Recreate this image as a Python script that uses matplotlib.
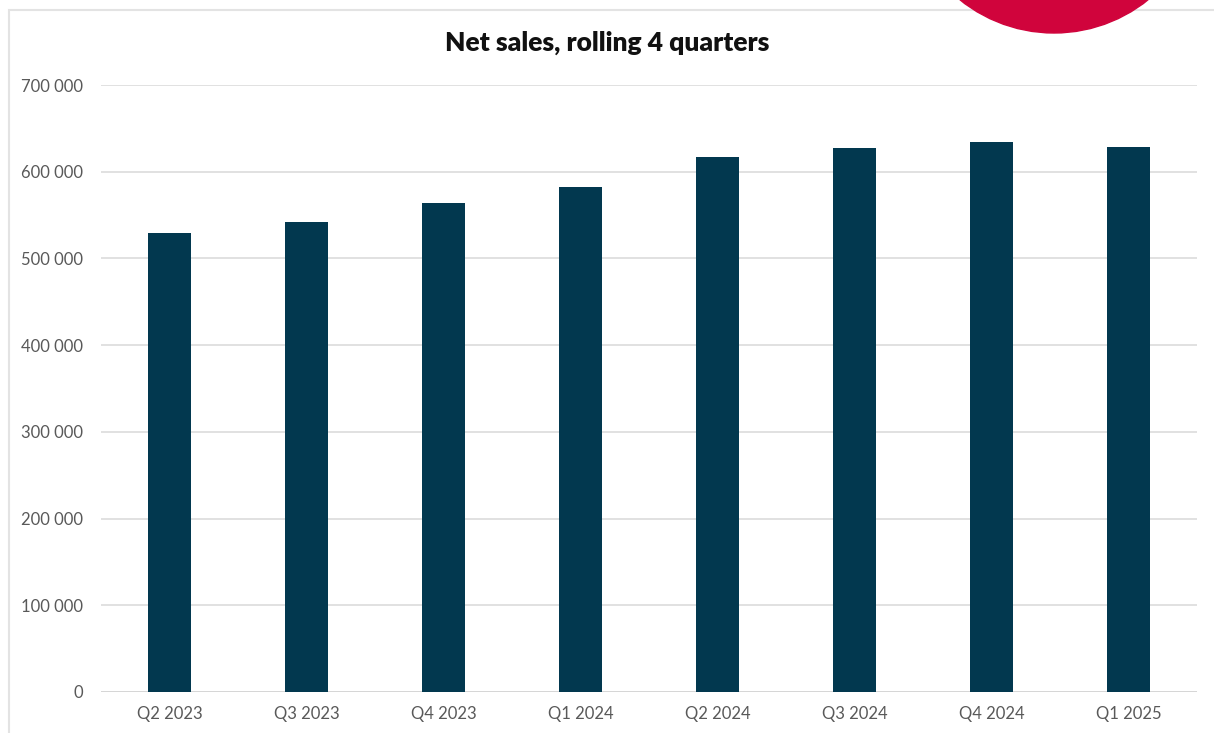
import matplotlib.pyplot as plt
from matplotlib.patches import Rectangle, Ellipse
from matplotlib.ticker import FuncFormatter

quarters = ['Q2 2023', 'Q3 2023', 'Q4 2023', 'Q1 2024',
            'Q2 2024', 'Q3 2024', 'Q4 2024', 'Q1 2025']
net_sales = [529500, 542500, 564000, 582000, 617500, 627500, 634500, 628500]

W, H = 1214, 733
plt.rcParams['font.family'] = ['Lato', 'DejaVu Sans']
fig = plt.figure(figsize=(W / 100, H / 100), dpi=100)
ax = fig.add_axes([101 / W, 1 - 692 / H, 1096 / W, 607 / H])

ax.bar(range(len(quarters)), net_sales, width=0.31, color='#02384f', zorder=3)
ax.set_xlim(-0.5, len(quarters) - 0.5)
ax.set_ylim(0, 700000)
ax.set_yticks(range(0, 700001, 100000))
ax.yaxis.set_major_formatter(FuncFormatter(lambda v, p: f'{int(v):,}'.replace(',', ' ')))
ax.set_xticks(range(len(quarters)))
ax.set_xticklabels(quarters)
ax.grid(axis='y', color='#dcdcdc', linewidth=1.2, zorder=0)
for s in ax.spines.values():
    s.set_visible(False)
ax.tick_params(length=0, labelsize=12, colors='#595959', pad=13)
ax.tick_params(axis='x', pad=10)
ax.axhline(0, color='#d6d6d6', linewidth=1.4, zorder=2)

fig.text(0.5, 1 - 43 / H, 'Net sales, rolling 4 quarters', ha='center', va='center',
         fontsize=19, fontweight='heavy', color='#111111')

# outer frame and red corner circle
fig.patches.append(Rectangle((9 / W, -0.1), 1.2, 1 - 10 / H + 0.1, transform=fig.transFigure,
                             fill=False, edgecolor='#e3e3e3', linewidth=1.5))
fig.patches.append(Ellipse((1054 / W, 1 + 117 / H), 300 / W, 300 / H, transform=fig.transFigure,
                           color='#d0043c', zorder=5))

fig.savefig('out.png', dpi=100)
